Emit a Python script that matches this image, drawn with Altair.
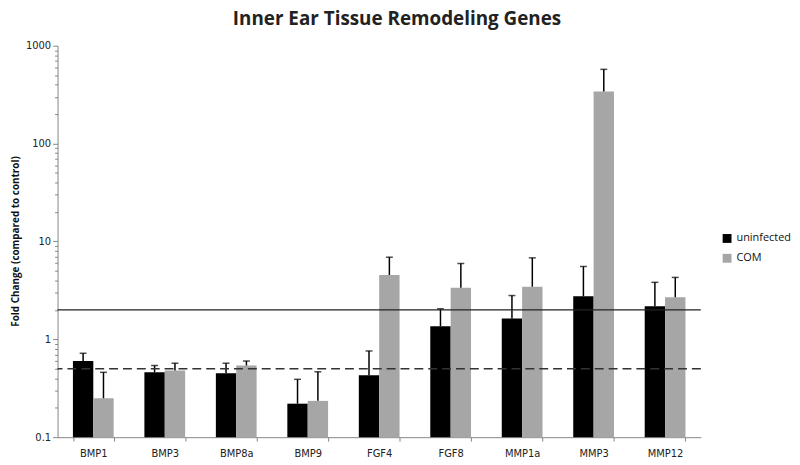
import altair as alt
import pandas as pd

genes = ["BMP1", "BMP3", "BMP8a", "BMP9", "FGF4", "FGF8", "MMP1a", "MMP3", "MMP12"]
series = ["uninfected", "COM"]
uninfected = [0.60, 0.46, 0.45, 0.22, 0.43, 1.36, 1.63, 2.75, 2.18]
uninfected_err = [0.72, 0.54, 0.57, 0.39, 0.76, 2.05, 2.80, 5.55, 3.82]
com = [0.25, 0.48, 0.54, 0.235, 4.54, 3.37, 3.45, 340.0, 2.69]
com_err = [0.46, 0.57, 0.60, 0.466, 6.9, 5.95, 6.8, 573.0, 4.29]
ref_upper = 2.0
ref_lower = 0.5

rows = []
for i, g in enumerate(genes):
    rows.append({"gene": g, "series": "uninfected", "value": uninfected[i], "err": uninfected_err[i]})
    rows.append({"gene": g, "series": "COM", "value": com[i], "err": com_err[i]})
df = pd.DataFrame(rows)

minor = []
for d in [0.1, 1, 10, 100]:
    for m in range(1, 10):
        minor.append(round(d * m, 4))
minor.append(1000)

is_major = "abs(log(datum.value)/LN10 - round(log(datum.value)/LN10)) < 0.000001"

yscale = alt.Scale(type="log", domain=[0.1, 1000], nice=False)
xenc = alt.X("gene:N", sort=genes, title=None,
             scale=alt.Scale(paddingInner=0.43, paddingOuter=0.215),
             axis=alt.Axis(labelAngle=0, labelFont="DejaVu Sans", labelFontSize=10,
                           labelColor="#222222", labelPadding=7, tickBand="extent",
                           tickSize=4, tickColor="#868686", domainColor="#868686",
                           domainWidth=1))
xoff = alt.XOffset("series:N", sort=series, scale=alt.Scale(paddingInner=0, paddingOuter=0))

base = alt.Chart(df)

bars = base.mark_bar().encode(
    x=xenc,
    xOffset=xoff,
    y=alt.Y("value:Q", scale=yscale,
            title="Fold Change (compared to control)",
            axis=alt.Axis(values=minor, grid=False,
                          labelExpr=is_major + " ? format(datum.value, '~g') : ''",
                          labelFont="DejaVu Sans", labelFontSize=10, labelColor="#222222",
                          tickSize={"condition": {"test": is_major, "value": 5}, "value": 3},
                          tickColor="#868686", domainColor="#868686",
                          titleFont="Open Sans", titleFontSize=10, titleFontWeight="bold",
                          titleColor="#111111", titleX=-42, titleY=197,
                          titleAngle=-90, titleAlign="center", titleBaseline="middle")),
    y2=alt.datum(0.1),
    color=alt.Color("series:N", sort=series,
                    scale=alt.Scale(domain=series, range=["#000000", "#A6A6A6"]),
                    legend=alt.Legend(orient="none", legendX=670, legendY=189, title=None,
                                      symbolType="square", symbolSize=80, symbolStrokeWidth=0,
                                      labelFont="Open Sans", labelFontSize=11,
                                      labelColor="#111111", rowPadding=8)),
)

errs = base.mark_rule(color="#000000", strokeWidth=1.5).encode(
    x=alt.X("gene:N", sort=genes),
    xOffset=xoff,
    y=alt.Y("value:Q", scale=yscale),
    y2="err:Q",
)

caps = base.mark_tick(color="#000000", thickness=1.5, size=7).encode(
    x=alt.X("gene:N", sort=genes),
    xOffset=xoff,
    y=alt.Y("err:Q", scale=yscale),
)

line_upper = alt.Chart(pd.DataFrame({"v": [ref_upper]})).mark_rule(
    color="#222222", strokeWidth=1.3).encode(y=alt.Y("v:Q", scale=yscale))
line_lower = alt.Chart(pd.DataFrame({"v": [ref_lower]})).mark_rule(
    color="#333333", strokeWidth=1.5, strokeDash=[9, 5]).encode(y=alt.Y("v:Q", scale=yscale))

chart = alt.layer(bars, errs, caps, line_upper, line_lower).properties(
    width=649, height=395,
    title=alt.TitleParams("Inner Ear Tissue Remodeling Genes", font="Open Sans",
                          fontSize=19, fontWeight="bold", color="#222222",
                          anchor="middle", dx=18, offset=12),
    autosize=alt.AutoSizeParams(type="none"),
    padding={"left": 50, "top": 36, "right": 92, "bottom": 22},
).configure_view(stroke=None)

chart.save("out.html", embed_options={"renderer": "svg", "actions": False})
